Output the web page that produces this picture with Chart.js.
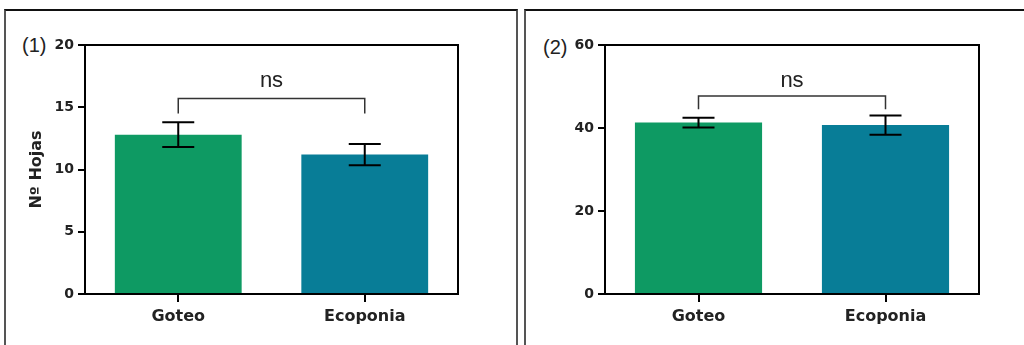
<!DOCTYPE html>
<html>
<head>
<meta charset="utf-8">
<script src="https://cdn.jsdelivr.net/npm/chart.js@4.4.1/dist/chart.umd.min.js"></script>
<style>
  html, body { margin: 0; padding: 0; background: #fff; width: 1024px; height: 345px; overflow: hidden; }
  .panel { position: absolute; top: 9px; height: 400px; box-sizing: border-box;
           border-top: 2px solid #111; border-left: 2px solid #555; border-right: 2px solid #555; }
  .tag { position: absolute; font-family: "Liberation Sans", Arial, sans-serif; font-size: 20px; color: #222; line-height: 20px; }
  canvas { position: absolute; top: 0; }
</style>
</head>
<body>
<div class="panel" style="left:4px; width:514px;"></div>
<div class="panel" style="left:524px; width:600px;"></div>
<div class="tag" style="left:22px; top:35px;">(1)</div>
<div class="tag" style="left:543px; top:37px;">(2)</div>
<canvas id="c1" width="515" height="345" style="left:0px;"></canvas>
<canvas id="c2" width="509" height="345" style="left:515px;"></canvas>
<script>
// ---- data ----
const categories = ['Goteo', 'Ecoponia'];
const barColors = ['#0E9A63', '#087D97'];

const hojasMean = [12.8, 11.2];
const hojasErr = [1.0, 0.85];
const hojasTicks = [0, 5, 10, 15, 20];

const panel2Mean = [41.3, 40.7];
const panel2Err = [1.2, 2.3];
const panel2Ticks = [0, 20, 40, 60];

const sigLabel = 'ns';
const bracketTop = [15.7, 47.7];    // bracket horizontal level (data units)
const bracketDrop = [14.5, 44.5];   // bracket ends (data units)
const sigTextLevel = [16.6, 49.9];  // baseline of "ns" (data units)

const tickFont = { family: 'DejaVu Sans', weight: 'bold', size: 14 };

const overlayPlugin = {
  id: 'overlay',
  afterDatasetsDraw(chart, args, opts) {
    const ctx = chart.ctx;
    const y = chart.scales.y;
    const meta = chart.getDatasetMeta(0);
    const ca = chart.chartArea;
    ctx.save();
    // error bars
    ctx.strokeStyle = '#000';
    ctx.lineWidth = 2;
    meta.data.forEach((bar, i) => {
      const m = opts.mean[i], e = opts.err[i];
      const yt = y.getPixelForValue(m + e), yb = y.getPixelForValue(m - e);
      ctx.beginPath();
      ctx.moveTo(bar.x, yt); ctx.lineTo(bar.x, yb);
      ctx.moveTo(bar.x - 16, yt); ctx.lineTo(bar.x + 16, yt);
      ctx.moveTo(bar.x - 16, yb); ctx.lineTo(bar.x + 16, yb);
      ctx.stroke();
    });
    // bracket
    const x0 = meta.data[0].x, x1 = meta.data[1].x;
    const by = y.getPixelForValue(opts.bracketTop), bd = y.getPixelForValue(opts.bracketDrop);
    ctx.strokeStyle = '#333';
    ctx.lineWidth = 1.5;
    ctx.beginPath();
    ctx.moveTo(x0, bd); ctx.lineTo(x0, by); ctx.lineTo(x1, by); ctx.lineTo(x1, bd);
    ctx.stroke();
    ctx.fillStyle = '#222';
    ctx.font = '22px "Liberation Sans", Arial, sans-serif';
    ctx.textAlign = 'center';
    ctx.textBaseline = 'alphabetic';
    ctx.fillText(sigLabel, (x0 + x1) / 2, y.getPixelForValue(opts.textLevel));
    // frame top & right
    ctx.strokeStyle = '#000';
    ctx.lineWidth = 2;
    ctx.beginPath();
    ctx.moveTo(ca.left - 1, ca.top); ctx.lineTo(ca.right, ca.top); ctx.lineTo(ca.right, ca.bottom + 1);
    ctx.stroke();
    ctx.restore();
  }
};

function makeChart(id, mean, err, ticks, yMax, step, yWidth, padRight, title, k) {
  return new Chart(document.getElementById(id), {
    type: 'bar',
    data: {
      labels: categories,
      datasets: [{
        data: mean,
        backgroundColor: barColors,
        borderWidth: 0,
        categoryPercentage: 1.0,
        barPercentage: 0.68
      }]
    },
    plugins: [overlayPlugin],
    options: {
      responsive: false,
      animation: false,
      events: [],
      layout: { padding: { top: 45, right: padRight, bottom: 0, left: 0 } },
      plugins: {
        legend: { display: false },
        tooltip: { enabled: false },
        overlay: { mean: mean, err: err, bracketTop: bracketTop[k], bracketDrop: bracketDrop[k], textLevel: sigTextLevel[k] }
      },
      scales: {
        x: {
          offset: true,
          grid: { offset: false, drawOnChartArea: false, drawTicks: true, tickLength: 8, color: '#000', lineWidth: 2 },
          border: { display: true, color: '#000', width: 2 },
          ticks: { color: '#222', font: { family: 'DejaVu Sans', weight: 'bold', size: 16 }, padding: 5, maxRotation: 0 },
          afterFit(s) { s.height = 51; }
        },
        y: {
          min: 0, max: yMax,
          afterBuildTicks(s) { s.ticks = ticks.map(v => ({ value: v })); },
          grid: { drawOnChartArea: false, drawTicks: true, tickLength: 7, color: '#000', lineWidth: 2 },
          border: { display: true, color: '#000', width: 2 },
          ticks: { color: '#222', font: tickFont, padding: 4, stepSize: step },
          title: title ? { display: true, text: title, color: '#222',
                           font: { family: 'DejaVu Sans', weight: 'bold', size: 16 }, padding: { top: 27, bottom: 0 } }
                       : { display: false },
          afterFit(s) { s.width = yWidth; }
        }
      }
    }
  });
}

makeChart('c1', hojasMean, hojasErr, hojasTicks, 20, 5, 85, 57, 'Nº Hojas', 0);
makeChart('c2', panel2Mean, panel2Err, panel2Ticks, 60, 20, 90, 45, null, 1);
</script>
</body>
</html>
